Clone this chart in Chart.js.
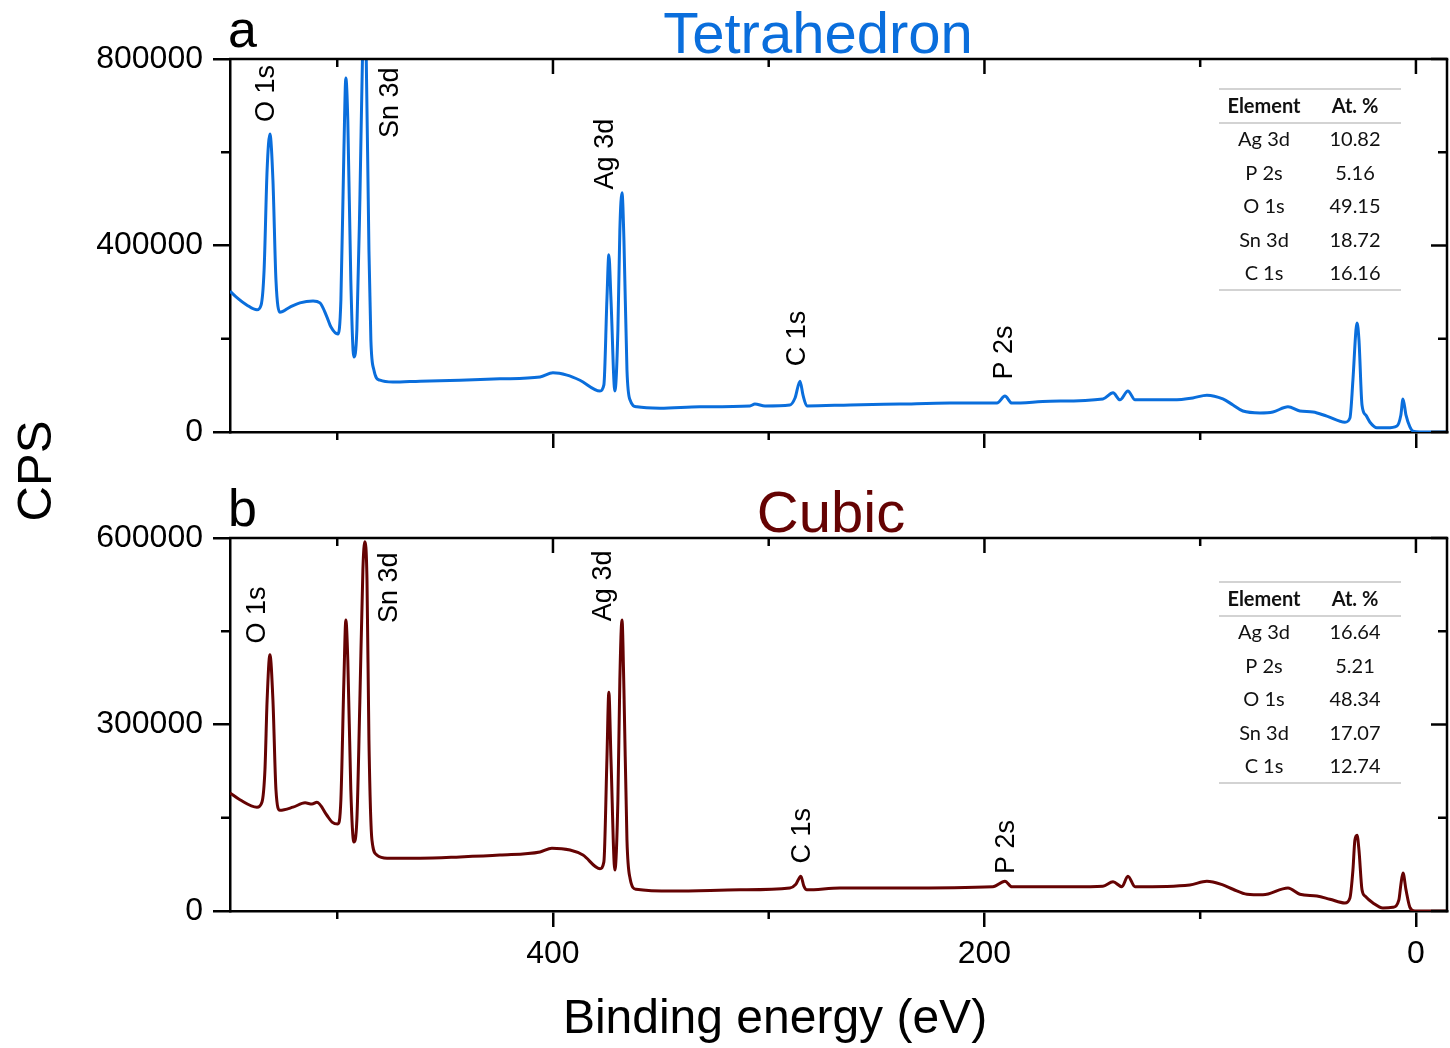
<!DOCTYPE html>
<html>
<head>
<meta charset="utf-8">
<script src="https://cdn.jsdelivr.net/npm/chart.js@4.4.1/dist/chart.umd.min.js"></script>
<style>
html, body { margin: 0; padding: 0; background: #fff; }
#wrap { position: relative; width: 1450px; height: 1048px; }
canvas { position: absolute; left: 0; top: 0; }
</style>
</head>
<body>
<div id="wrap">
    <canvas id="topo" width="1450" height="1048"></canvas>
    <canvas id="baixo" width="1450" height="1048"></canvas>
</div>
<script>
// DADOS - TETRAHEDRON
const energiaTetra = [
    549.7, 546.9, 541.8, 537.2, 535.3, 533.9, 532.5, 531.2, 529.8, 528.4,
    526.6, 521.9, 517.3, 511.2, 508.0, 504.8, 502.9, 499.7, 498.3, 496.9,
    496.0, 495.1, 493.7, 492.3, 490.9, 489.5, 488.1, 487.4, 486.7, 485.3,
    484.4, 483.0, 480.2, 474.2, 461.6, 443.1, 424.6, 406.0, 400.0, 393.5,
    387.5, 378.2, 376.4, 375.0, 374.1, 373.1, 371.3, 369.9, 369.0, 368.0,
    367.1, 365.7, 364.3, 361.1, 350.4, 331.9, 308.7, 306.4, 301.7, 290.2,
    287.8, 285.5, 284.1, 282.3, 262.3, 239.2, 216.0, 194.2, 190.5, 187.3,
    169.6, 145.1, 140.4, 137.2, 133.5, 130.2, 112.6, 103.4, 96.9, 89.5,
    84.8, 80.2, 72.3, 66.3, 59.3, 53.8, 47.7, 41.3, 32.9, 30.6,
    29.2, 27.8, 27.3, 26.4, 25.0, 23.2, 21.3, 18.1, 13.4, 8.8,
    7.0, 6.0, 4.6, 2.8, 1.4, -1.9, -14.4
];
const cpsTetra = [
    302000, 290000, 272000, 262000, 272000, 347000, 562000, 639000, 540000, 326000,
    257000, 268000, 277000, 281000, 277000, 247000, 225000, 210000, 283000, 605000,
    759000, 669000, 326000, 161000, 219000, 498000, 850000, 920000, 850000, 390000,
    197000, 133000, 111000, 107000, 109000, 111000, 114000, 118000, 127000, 122000,
    111000, 88000, 101000, 283000, 380000, 283000, 88000, 219000, 433000, 513000,
    411000, 133000, 69000, 54000, 51000, 54000, 56000, 60000, 56000, 58000,
    73000, 109000, 79000, 56000, 58000, 60000, 62000, 62000, 77000, 62000,
    66000, 71000, 84000, 69000, 88000, 69000, 69000, 73000, 79000, 71000,
    58000, 45000, 41000, 43000, 54000, 45000, 43000, 34000, 21000, 30000,
    112000, 219000, 234000, 197000, 58000, 36000, 21000, 9000, 9000, 13000,
    36000, 71000, 36000, 11000, 2000, 0, 0
];

// DADOS - CUBIC
const energiaCubic = [
    549.7, 545.1, 537.2, 534.9, 533.5, 532.5, 531.2, 529.8, 528.4, 526.6,
    520.5, 514.9, 511.7, 509.4, 504.8, 502.4, 499.7, 498.3, 496.9, 496.0,
    495.1, 493.7, 492.3, 490.9, 489.5, 488.1, 487.2, 486.2, 485.3, 483.9,
    481.6, 476.9, 461.6, 443.1, 424.6, 406.0, 400.5, 392.1, 386.1, 378.2,
    376.4, 375.0, 374.1, 373.1, 371.3, 369.9, 369.0, 368.0, 367.1, 365.7,
    364.3, 361.5, 344.4, 313.3, 290.2, 287.4, 285.1, 283.7, 282.3, 267.0,
    239.2, 196.1, 190.5, 187.3, 159.0, 145.1, 140.4, 136.3, 133.5, 130.2,
    104.8, 96.9, 89.5, 84.8, 78.3, 70.9, 59.3, 53.8, 45.9, 39.9,
    32.9, 30.6, 29.2, 28.3, 27.3, 26.4, 25.0, 23.6, 19.9, 15.3,
    10.7, 7.9, 7.0, 6.0, 4.6, 2.8, 0.5, -14.4
];
const cpsCubic = [
    190000, 179000, 167000, 175000, 227000, 339000, 412000, 339000, 195000, 162000,
    167000, 174000, 172000, 175000, 154000, 143000, 140000, 179000, 372000, 468000,
    404000, 195000, 111000, 146000, 339000, 549000, 594000, 532000, 275000, 114000,
    90000, 85000, 85000, 87000, 90000, 95000, 101000, 98000, 90000, 68000,
    79000, 243000, 352000, 243000, 66000, 179000, 372000, 468000, 355000, 114000,
    53000, 35000, 32000, 34000, 37000, 43000, 56000, 40000, 34000, 37000,
    37000, 39000, 48000, 39000, 39000, 40000, 47000, 39000, 56000, 39000,
    42000, 48000, 42000, 35000, 27000, 26000, 37000, 27000, 24000, 19000,
    13000, 21000, 66000, 114000, 122000, 98000, 34000, 24000, 13000, 5000,
    6000, 18000, 42000, 61000, 34000, 6000, 0, 0
];

// TICKS
const xTicks = [0, 200, 400];
const yTicksTetra = [0, 400000, 800000];
const yTicksCubic = [0, 300000, 600000];

// TABELA
const elementos = ["Ag 3d", "P 2s", "O 1s", "Sn 3d", "C 1s"];
const atTetra = ["10.82", "5.16", "49.15", "18.72", "16.16"];
const atCubic = ["16.64", "5.21", "48.34", "17.07", "12.74"];

// PICOS (rótulos)
const picos = ["O 1s", "Sn 3d", "Ag 3d", "C 1s", "P 2s"];
const picosTetraE = [532.6, 475.1, 375.4, 286.7, 190.5];
const picosTetraY = [726000, 706000, 596000, 200500, 170500];
const picosCubicE = [537.0, 475.6, 376.4, 284.4, 189.6];
const picosCubicY = [476000, 520000, 523000, 121000, 103000];

const AZUL = "#0a6edc";
const VERMELHO = "#650303";
const FONTE = '"Liberation Sans", Arial, sans-serif';

// MOLDURA E TICKS MENORES
const moldura = {
    id: "moldura",
    afterDraw(chart) {
        const { ctx, chartArea: a, scales: { x, y } } = chart;
        ctx.save();
        ctx.strokeStyle = "#000";
        ctx.lineWidth = 2.5;

        const linha = (x1, y1, x2, y2) => {
            ctx.beginPath();
            ctx.moveTo(x1, y1);
            ctx.lineTo(x2, y2);
            ctx.stroke();
        };

        linha(a.left - 1, a.top, a.right + 1.25, a.top);
        linha(a.right, a.top, a.right, a.bottom + 1.25);

        x.ticks.forEach(t => {
            const p = x.getPixelForValue(t.value);
            linha(p, a.top, p, a.top + 15);
            const m = t.value + 100;
            if (m < x.max) {
                const pm = x.getPixelForValue(m);
                linha(pm, a.bottom, pm, a.bottom + 8);
                linha(pm, a.top, pm, a.top + 8);
            }
        });

        const passo = y.ticks[1].value - y.ticks[0].value;
        y.ticks.forEach(t => {
            const p = y.getPixelForValue(t.value);
            linha(a.right - 16, p, a.right, p);
            const m = t.value + passo / 2;
            if (m < y.max) {
                const pm = y.getPixelForValue(m);
                linha(a.left - 9, pm, a.left, pm);
                linha(a.right - 9, pm, a.right, pm);
            }
        });
        ctx.restore();
    }
};

// TEXTOS: rótulos, título, tabela
const textos = {
    id: "textos",
    afterDraw(chart, args, o) {
        const { ctx, chartArea: a, scales: { x, y } } = chart;
        ctx.save();

        // letra + título
        ctx.fillStyle = "#000";
        ctx.textBaseline = "alphabetic";
        ctx.textAlign = "left";
        ctx.font = "52px " + FONTE;
        ctx.fillText(o.letra, 228, o.baseY);

        ctx.fillStyle = o.cor;
        ctx.textAlign = "center";
        ctx.font = "58px " + FONTE;
        ctx.fillText(o.titulo, o.tituloX, o.baseY + 6);

        // rótulos dos picos
        ctx.fillStyle = "#000";
        ctx.font = "27px " + FONTE;
        ctx.textBaseline = "middle";
        picos.forEach((nome, i) => {
            ctx.save();
            ctx.translate(x.getPixelForValue(o.picosE[i]), y.getPixelForValue(o.picosY[i]));
            ctx.rotate(-Math.PI / 2);
            ctx.fillText(nome, 0, 0);
            ctx.restore();
        });

        // tabela
        const t0 = a.top + o.tabelaTopo;
        const xl = a.right - 228, xr = a.right - 46;
        ctx.strokeStyle = "#c4c4c4";
        ctx.lineWidth = 1.5;
        [0, 34, 201].forEach(d => {
            ctx.beginPath();
            ctx.moveTo(xl, t0 + d);
            ctx.lineTo(xr, t0 + d);
            ctx.stroke();
        });
        const c1 = a.right - 183, c2 = a.right - 92;
        ctx.fillStyle = "#111";
        ctx.font = "bold 20px Lato, sans-serif";
        ctx.fillText("Element", c1, t0 + 18);
        ctx.fillText("At. %", c2, t0 + 18);
        ctx.font = "20px Lato, sans-serif";
        elementos.forEach((el, i) => {
            const yy = t0 + 51 + i * 33.4;
            ctx.fillText(el, c1, yy);
            ctx.fillText(o.valores[i], c2, yy);
        });

        // títulos dos eixos
        if (o.eixos) {
            ctx.fillStyle = "#000";
            ctx.textBaseline = "alphabetic";
            ctx.textAlign = "center";
            ctx.font = "48px " + FONTE;
            ctx.fillText("Binding energy (eV)", 775, 1033);
            ctx.save();
            ctx.translate(51, 471);
            ctx.rotate(-Math.PI / 2);
            ctx.font = "49px " + FONTE;
            ctx.fillText("CPS", 0, 0);
            ctx.restore();
        }
        ctx.restore();
    }
};

// GRÁFICO
function criar(id, energia, cps, cor, yTicks, yMax, padding, alturaX, mostrarX, extra) {
    const pontos = energia.map((e, i) => ({ x: e, y: cps[i] }));
    return new Chart(document.getElementById(id).getContext("2d"), {
        type: "line",
        data: {
            datasets: [{
                data: pontos,
                borderColor: cor,
                borderWidth: 3,
                pointRadius: 0,
                cubicInterpolationMode: "monotone",
                clip: 0,
                fill: false
            }]
        },
        options: {
            responsive: false,
            animation: false,
            events: [],
            layout: { padding: padding },
            plugins: {
                legend: { display: false },
                tooltip: { enabled: false },
                textos: extra
            },
            scales: {
                x: {
                    type: "linear",
                    reverse: true,
                    min: -14.4,
                    max: 549.7,
                    afterBuildTicks: s => { s.ticks = xTicks.map(v => ({ value: v })); },
                    afterFit: s => { s.height = alturaX; },
                    ticks: {
                        display: mostrarX,
                        color: "#000",
                        font: { family: FONTE, size: 32 },
                        padding: 8,
                        maxRotation: 0,
                        autoSkip: false,
                        callback: v => String(v)
                    },
                    grid: { drawOnChartArea: false, drawTicks: true, tickLength: 16, lineWidth: 2.5, color: "#000" },
                    border: { display: true, width: 2.5, color: "#000" }
                },
                y: {
                    type: "linear",
                    min: 0,
                    max: yMax,
                    afterBuildTicks: s => { s.ticks = yTicks.map(v => ({ value: v })); },
                    afterFit: s => { s.width = 230; },
                    ticks: {
                        color: "#000",
                        font: { family: FONTE, size: 32 },
                        padding: 10,
                        callback: v => String(v)
                    },
                    grid: { drawOnChartArea: false, drawTicks: true, tickLength: 17, lineWidth: 2.5, color: "#000" },
                    border: { display: true, width: 2.5, color: "#000" }
                }
            }
        },
        plugins: [moldura, textos]
    });
}

criar("topo", energiaTetra, cpsTetra, AZUL, yTicksTetra, 800000,
    { left: 0, top: 59, right: 3, bottom: 586 }, 30, false,
    { letra: "a", baseY: 47, titulo: "Tetrahedron", tituloX: 818, cor: AZUL,
      picosE: picosTetraE, picosY: picosTetraY, valores: atTetra, tabelaTopo: 30, eixos: false });

criar("baixo", energiaCubic, cpsCubic, VERMELHO, yTicksCubic, 600000,
    { left: 0, top: 538, right: 3, bottom: 0 }, 137, true,
    { letra: "b", baseY: 526, titulo: "Cubic", tituloX: 831, cor: VERMELHO,
      picosE: picosCubicE, picosY: picosCubicY, valores: atCubic, tabelaTopo: 44, eixos: true });
</script>
</body>
</html>
